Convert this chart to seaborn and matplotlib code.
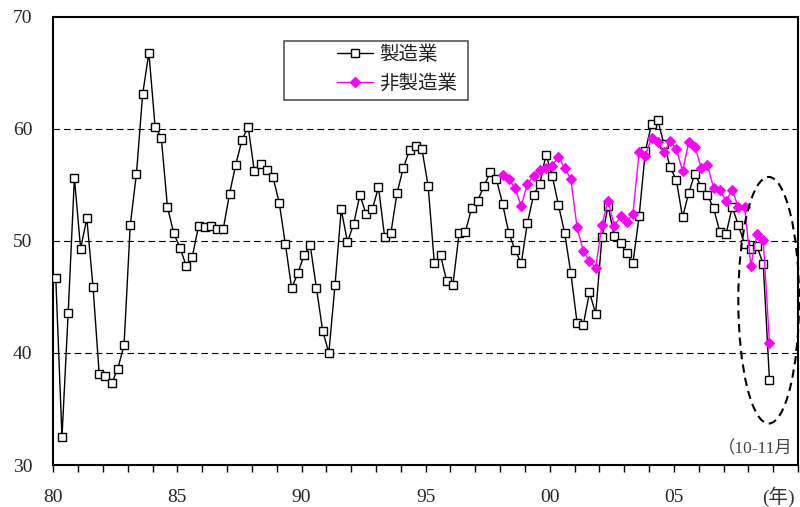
import numpy as np
import pandas as pd
import matplotlib
matplotlib.use("Agg")
import matplotlib.pyplot as plt
from matplotlib.patches import Ellipse, Rectangle
from matplotlib.lines import Line2D
import seaborn as sns

# Quarterly diffusion index, 1980Q1 - 2008Q4 (last point: Oct-Nov)
start_year = 1980
manufacturing = [
    46.7, 32.5, 43.6, 55.6, 49.3, 52.0, 45.9, 38.1, 37.9, 37.3, 38.6, 40.7,
    51.4, 56.0, 63.1, 66.8, 60.2, 59.2, 53.0, 50.7, 49.4, 47.8, 48.6, 51.3,
    51.2, 51.3, 51.1, 51.1, 54.2, 56.8, 59.0, 60.2, 56.2, 56.9, 56.3, 55.7,
    53.4, 49.7, 45.8, 47.1, 48.7, 49.6, 45.8, 42.0, 40.0, 46.1, 52.8, 49.9,
    51.5, 54.1, 52.4, 52.8, 54.8, 50.3, 50.7, 54.3, 56.5, 58.1, 58.5, 58.2,
    54.9, 48.0, 48.7, 46.4, 46.1, 50.7, 50.8, 52.9, 53.6, 54.9, 56.1, 55.5,
    53.3, 50.7, 49.2, 48.0, 51.6, 54.1, 55.1, 57.7, 55.8, 53.2, 50.7, 47.1,
    42.7, 42.5, 45.4, 43.5, 50.3, 53.1, 50.4, 49.8, 48.9, 48.0, 52.2, 58.0,
    60.4, 60.8, 58.6, 56.6, 55.4, 52.1, 54.3, 56.0, 54.8, 54.1, 52.9, 50.8,
    50.6, 53.0, 51.4, 49.7, 49.3, 49.5, 47.9, 37.6,
]
# Non-manufacturing series begins in 1998Q1
nonmfg_start = 1998
non_manufacturing = [
    55.9, 55.5, 54.7, 53.1, 55.1, 55.8, 56.3, 56.5, 56.7, 57.5, 56.5, 55.5,
    51.2, 49.1, 48.2, 47.6, 51.4, 53.6, 51.3, 52.2, 51.7, 52.4, 57.9, 57.6,
    59.2, 58.8, 57.9, 58.9, 58.2, 56.2, 58.8, 58.4, 56.5, 56.8, 54.7, 54.5,
    53.6, 54.5, 53.0, 53.0, 47.8, 50.6, 50.1, 40.9,
]
series_names = ["製造業", "非製造業"]
year_ticks = list(range(1980, 2011))
year_labels = {1980: "80", 1985: "85", 1990: "90", 1995: "95", 2000: "00", 2005: "05"}
y_ticks = [30, 40, 50, 60, 70]
grid_levels = [40, 50, 60]

# each survey point sits just after the start of its quarter
survey_offset = 0.1
x_mfg = start_year + survey_offset + np.arange(len(manufacturing)) / 4.0
x_non = nonmfg_start + survey_offset + np.arange(len(non_manufacturing)) / 4.0

sns.set_theme(style="white")
plt.rcParams["font.family"] = ["Liberation Serif", "Noto Sans CJK JP", "DejaVu Sans"]

fig = plt.figure(figsize=(8.0, 5.07), dpi=100)
ax = fig.add_axes([53.3 / 800, 42 / 507, (798 - 53.3) / 800, (465 - 16.7) / 507])

for lv in grid_levels:
    ax.axhline(lv, color="black", lw=0.8, dashes=(6, 3.5), zorder=1)

sns.lineplot(x=x_mfg, y=manufacturing, ax=ax, color="black", lw=1.0,
             marker="s", markersize=5.2, markerfacecolor="white",
             markeredgecolor="black", markeredgewidth=1.0,
             errorbar=None, sort=False, zorder=3)
sns.lineplot(x=x_non, y=non_manufacturing, ax=ax, color="#FF00FF", lw=1.0,
             marker="D", markersize=4.6, markerfacecolor="#FF00FF",
             markeredgecolor="#FF00FF", markeredgewidth=0.8,
             errorbar=None, sort=False, zorder=4)

ax.set_xlim(1980, 2010)
ax.set_ylim(30, 70)
ax.set_xticks(year_ticks)
ax.set_xticklabels([year_labels.get(y, "") for y in year_ticks])
ax.set_yticks(y_ticks)
ax.tick_params(axis="x", direction="out", length=5, width=1.0, pad=12.5,
               labelsize=14, bottom=True, color="black")
ax.tick_params(axis="y", length=0, pad=15, labelsize=14)
for s in ax.spines.values():
    s.set_color("black")
    s.set_linewidth(1.5)
ax.set_xlabel("")
ax.set_ylabel("")

# Highlight for the latest reading
ax.add_patch(Ellipse((2008.82, 44.7), width=2.45, height=22.0, fill=False,
                     edgecolor="black", lw=1.5, ls=(0, (4, 2.5)),
                     clip_on=False, zorder=5))

ax.text(0.993, 0.035, "（10-11月", transform=ax.transAxes, ha="right",
        va="center", fontsize=12.5, color="#444444")
fig.text(795 / 800, 1 - 497 / 507, "(年)", ha="right", va="center",
         fontsize=14, color="#333333")

# Legend with a separate frame
handles = [
    Line2D([], [], color="black", lw=1.0, marker="s", markersize=5.2,
           markerfacecolor="white", markeredgecolor="black", markeredgewidth=1.0),
    Line2D([], [], color="#FF00FF", lw=1.0, marker="D", markersize=4.6,
           markerfacecolor="#FF00FF", markeredgecolor="#FF00FF"),
]
leg = ax.legend(handles, series_names, loc="center left",
                bbox_to_anchor=(327 / 800, 1 - 69 / 507),
                bbox_transform=fig.transFigure, frameon=False,
                borderpad=0, handlelength=1.85, handletextpad=0.35,
                labelspacing=0.4, prop={"family": ["Noto Sans CJK JP"], "size": 14})
for t in leg.get_texts():
    t.set_color("#222222")
fig.add_artist(Rectangle((284 / 800, 1 - 100 / 507), (468 - 284) / 800, 59 / 507,
                         transform=fig.transFigure, fill=False,
                         edgecolor="#555555", lw=1.2))

fig.savefig("out.png", dpi=100)
